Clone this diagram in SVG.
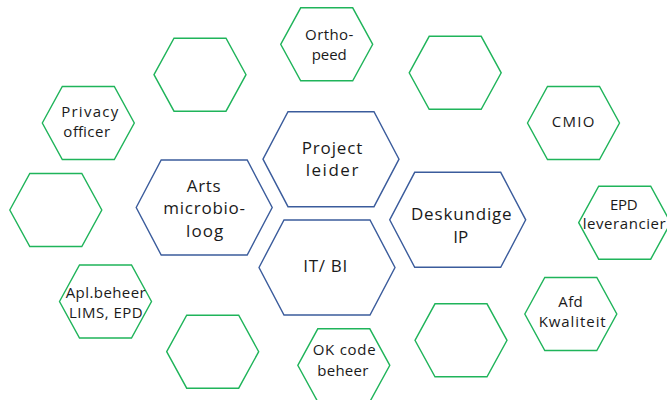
<svg xmlns="http://www.w3.org/2000/svg" xmlns:xlink="http://www.w3.org/1999/xlink" width="667" height="400" viewBox="0 0 667 400">
<defs>
<style>
.g{fill:#fff;stroke:#1fb45a;stroke-width:1.4}
.b{fill:#fff;stroke:#3b5c9c;stroke-width:1.4}
text{font-family:"Open Sans","Noto Sans","Liberation Sans",sans-serif;fill:#1a1a1a;text-anchor:middle}
.tb{font-size:17px}
.tg{font-size:15px}
</style>
<polygon id="ghex" points="-46,0 -26,-36.5 26,-36.5 46,0 26,36.5 -26,36.5"/>
<polygon id="bhex" points="-68,0 -43,-47.5 43,-47.5 68,0 43,47.5 -43,47.5"/>
</defs>
<rect width="667" height="400" fill="#fff"/>
<g id="connectors"/>
<g id="project-leider">
<use href="#bhex" class="b" x="331" y="159.2"/>
<text class="tb" x="332" y="154.3" textLength="60.7" lengthAdjust="spacing">Project</text>
<text class="tb" x="332" y="176.3" textLength="52.7" lengthAdjust="spacing">leider</text>
</g>
<g id="arts-microbioloog">
<use href="#bhex" class="b" x="204.2" y="207.5"/>
<text class="tb" x="203.7" y="192" textLength="34" lengthAdjust="spacing">Arts</text>
<text class="tb" x="204.2" y="214.3" textLength="81.7" lengthAdjust="spacing">microbio-</text>
<text class="tb" x="204.7" y="236.9" textLength="37.3" lengthAdjust="spacing">loog</text>
</g>
<g id="deskundige-ip">
<use href="#bhex" class="b" x="457.7" y="219.8"/>
<text class="tb" x="461.3" y="220" textLength="100.7" lengthAdjust="spacing">Deskundige</text>
<text class="tb" x="460.8" y="242.7">IP</text>
</g>
<g id="it-bi">
<use href="#bhex" class="b" x="327" y="267.5"/>
<text class="tb" x="325.3" y="271.5" textLength="44" lengthAdjust="spacing">IT/ BI</text>
</g>
<g id="empty-1"><use href="#ghex" class="g" x="200" y="74.7"/></g>
<g id="orthopeed">
<use href="#ghex" class="g" x="326.7" y="44.3"/>
<text class="tg" x="329.2" y="39.7" textLength="48.3" lengthAdjust="spacing">Ortho-</text>
<text class="tg" x="329.2" y="60" textLength="35" lengthAdjust="spacing">peed</text>
</g>
<g id="empty-2"><use href="#ghex" class="g" x="455.2" y="72.8"/></g>
<g id="privacy-officer">
<use href="#ghex" class="g" x="88.3" y="123"/>
<text class="tg" x="89.7" y="117.3" textLength="57" lengthAdjust="spacing">Privacy</text>
<text class="tg" x="86.7" y="136.7" textLength="46.7" lengthAdjust="spacing">officer</text>
</g>
<g id="cmio">
<use href="#ghex" class="g" x="573.5" y="123"/>
<text class="tg" x="573" y="127.3" textLength="42.7" lengthAdjust="spacing">CMIO</text>
</g>
<g id="empty-3"><use href="#ghex" class="g" x="55.8" y="210"/></g>
<g id="epd-leverancier">
<use href="#ghex" class="g" x="624.7" y="222.7"/>
<text class="tg" x="623.8" y="210" textLength="27.7" lengthAdjust="spacing">EPD</text>
<text class="tg" x="582.7" y="229.3" style="text-anchor:start" textLength="83" lengthAdjust="spacing">leverancier</text>
</g>
<g id="apl-beheer">
<use href="#ghex" class="g" x="105.5" y="301.5"/>
<text class="tg" x="105.7" y="298.3" textLength="80" lengthAdjust="spacing">Apl.beheer</text>
<text class="tg" x="105.8" y="317.7" textLength="73.7" lengthAdjust="spacing">LIMS, EPD</text>
</g>
<g id="empty-4"><use href="#ghex" class="g" x="212.7" y="351.7"/></g>
<g id="ok-code-beheer">
<use href="#ghex" class="g" x="343.8" y="365.3"/>
<text class="tg" x="344.2" y="355" textLength="63" lengthAdjust="spacing">OK code</text>
<text class="tg" x="342.8" y="376" textLength="51" lengthAdjust="spacing">beheer</text>
</g>
<g id="empty-5"><use href="#ghex" class="g" x="461" y="340.3"/></g>
<g id="afd-kwaliteit">
<use href="#ghex" class="g" x="570.8" y="314"/>
<text class="tg" x="570.5" y="306.7" textLength="24.3" lengthAdjust="spacing">Afd</text>
<text class="tg" x="572.2" y="326.7" textLength="67" lengthAdjust="spacing">Kwaliteit</text>
</g>
</svg>
